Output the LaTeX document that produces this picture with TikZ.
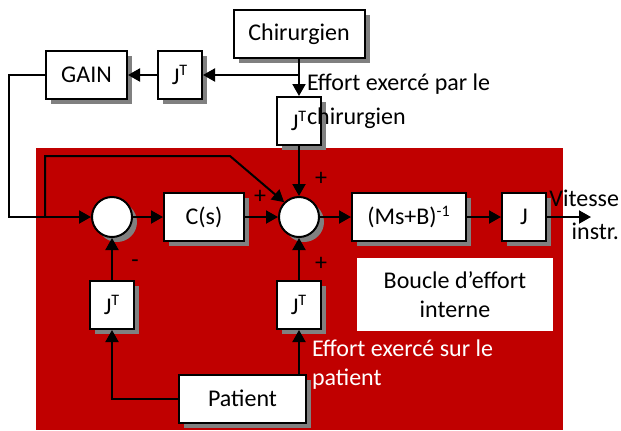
\documentclass[tikz,border=0pt]{standalone}
\usepackage{fontspec}
\setmainfont{Carlito}
\usepackage{tikz}
\usetikzlibrary{positioning, arrows.meta, shadows}
\definecolor{rouge}{RGB}{192,0,0}
\definecolor{ombre}{RGB}{128,128,128}

\begin{document}
\begin{tikzpicture}
	[x=0.5pt, y=-0.5pt, on grid, line width=1pt, >={Triangle[length=6pt,width=6.5pt]},
	 font=\fontsize{12}{14.5}\selectfont,
	 bloc/.style={draw, fill=white, minimum height=24pt, inner sep=0pt,
	   drop shadow={shadow xshift=2.5pt, shadow yshift=-2.5pt, fill=ombre, opacity=1}},
	 somme/.style={circle, draw, fill=white, minimum size=20pt, inner sep=0pt,
	   drop shadow={shadow xshift=2.5pt, shadow yshift=-2.5pt, fill=ombre, opacity=1}},
	 signe/.style={inner sep=0pt}]
   \useasboundingbox (0,0) rectangle (621,430);
   \fill[rouge] (36,148) rectangle (563,430);
   % chaine du haut
   \node[bloc, minimum width=65.5pt] (chir) at (299,34) {Chirurgien};
   \node[bloc, minimum width=40.5pt] (gain) at (86.5,75) {GAIN};
   \node[bloc, minimum width=22pt] (jt1) at (180,75) {J\textsuperscript{T}};
   \node[bloc, minimum width=22pt] (jtc) [below=43.5pt of chir] {J\textsuperscript{T}};
   % boucle interne
   \node[somme] (s1) at (112,217) {};
   \node[bloc, minimum width=40pt] (cs) [right=46pt of s1] {C(s)};
   \node[somme] (s2) [right=93.5pt of s1] {};
   \node[bloc, minimum width=57pt] (msb) [right=55pt of s2] {(Ms+B)\textsuperscript{-1}};
   \node[bloc, minimum width=22pt] (jj) [right=57.5pt of msb] {J};
   \node[bloc, minimum width=22pt] (jt2) [below=44pt of s1] {J\textsuperscript{T}};
   \node[bloc, minimum width=22pt] (jt3) [below=44pt of s2] {J\textsuperscript{T}};
   \node[bloc, minimum width=63.5pt] (pat) at (242.5,398.5) {Patient};
   \node[fill=white, minimum width=98pt, minimum height=36.5pt, align=center] (boucle) at (455,294.5) {Boucle d’effort\\interne};
   % signes
   \node[signe] (p1) at (260,197) {+};
   \node[signe] (p2) at (321,179) {+};
   \node[signe] (p3) at (321,264) {+};
   \node[signe] (m1) at (135,264) {-};
   % fleches
   \coordinate (split) at (chir.south |- jt1.east);
   \coordinate (branche) at (45,217);
   \coordinate[right=22pt of jj.east] (sortie);
   \draw[->] (chir) -- (jtc);
   \draw[->] (split) -- (jt1);
   \draw[->] (jt1) -- (gain);
   \draw[->] (gain.west) -- ++(-36,0) |- (s1.west);
   \draw[->] (branche) |- (230,156) -- (s2.135);
   \draw[->] (s1) -- (cs);
   \draw[->] (cs) -- (s2);
   \draw[->] (s2) -- (msb);
   \draw[->] (msb) -- (jj);
   \draw[->] (jj) -- (sortie);
   \draw[->] (jtc) -- (s2);
   \draw[->] (jt3) -- (s2);
   \draw[->] (jt2) -- (s1);
   \draw[->] (jt3.south |- pat.north) -- (jt3.south);
   \draw[->] (pat.west) -| (jt2.south);
   % textes
   \node[anchor=west, align=left, inner sep=0pt, font=\fontsize{12}{17}\selectfont] (lchir) at (306,101) {Effort exercé par le\\chirurgien};
   \node[anchor=west, align=left, inner sep=0pt, text=white] (lpat) at (311,364.5) {Effort exercé sur le\\patient};
   \node[anchor=east, align=right, inner sep=0pt, font=\fontsize{12}{16.5}\selectfont] (vit) at (620,215) {Vitesse\\instr.};
\end{tikzpicture}
\end{document}
